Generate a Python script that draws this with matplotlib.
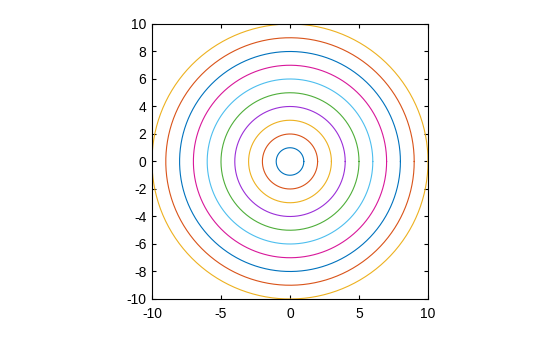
import numpy as np
import matplotlib.pyplot as plt

plt.rcParams['font.family'] = ['Liberation Sans', 'DejaVu Sans']
plt.rcParams['axes.unicode_minus'] = False

# ---- circle radii and the colour cycle ----
radii = [1, 2, 3, 4, 5, 6, 7, 8, 9, 10]
colors = ["#0072BD", "#D95319", "#EDB120", "#9B2FD8", "#4FAE3A",
          "#4DBEEE", "#D8189A"]
xticks = [-10, -5, 0, 5, 10]
yticks = [-10, -8, -6, -4, -2, 0, 2, 4, 6, 8, 10]

fig = plt.figure(figsize=(5.6, 3.37), dpi=100)
ax = fig.add_axes([0.2714, 0.1128, 0.4929, 0.8160])

t = np.linspace(0, 2 * np.pi, 400)
for i, r in enumerate(radii):
    ax.plot(r * np.cos(t), r * np.sin(t), color=colors[i % len(colors)], lw=0.8)

ax.set_xlim(-10, 10)
ax.set_ylim(-10, 10)
ax.set_xticks(xticks)
ax.set_yticks(yticks)
ax.tick_params(direction="in", top=True, right=True, length=3, width=0.8,
               labelsize=10)
ax.tick_params(axis="x", pad=6)
ax.tick_params(axis="y", pad=4)
for s in ax.spines.values():
    s.set_linewidth(0.8)

plt.savefig("out.png", dpi=100, facecolor="white")
